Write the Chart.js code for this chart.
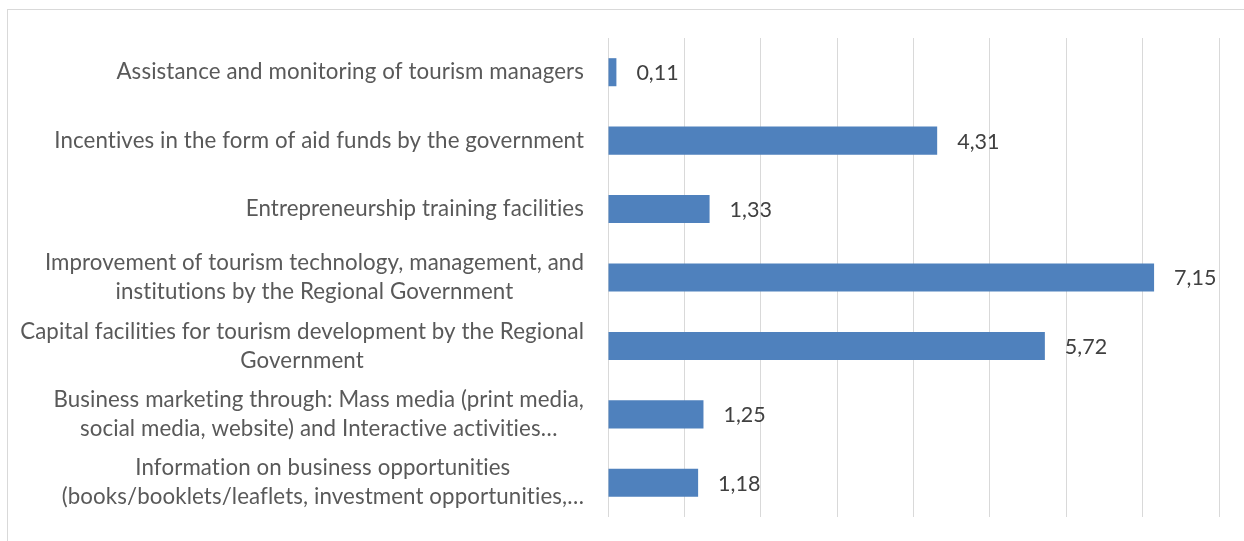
<!DOCTYPE html>
<html>
<head>
<meta charset="utf-8">
<script src="https://cdn.jsdelivr.net/npm/chart.js@4"></script>
<style>
  html, body { margin: 0; padding: 0; background: #fff; overflow: hidden; }
  #frame {
    position: absolute; left: 7px; top: 9px; width: 1300px; height: 600px;
    border: 1px solid #d9d9d9; box-sizing: border-box;
  }
  #wrap { position: absolute; left: 0; top: 0; width: 1244px; height: 541px; }
</style>
</head>
<body>
<div id="frame"></div>
<div id="wrap"><canvas id="chart" width="1244" height="541"></canvas></div>
<script>
// ---- data ----
const categories = [
  ['Assistance and monitoring of tourism managers'],
  ['Incentives in the form of aid funds by the government'],
  ['Entrepreneurship training facilities'],
  ['Improvement of tourism technology, management, and', 'institutions by the Regional Government'],
  ['Capital facilities for tourism development by the Regional', 'Government'],
  ['Business marketing through: Mass media (print media,', 'social media, website) and Interactive activities…'],
  ['Information on business opportunities', '(books/booklets/leaflets, investment opportunities,…']
];
const values = [0.11, 4.31, 1.33, 7.15, 5.72, 1.25, 1.18];
const axisMin = 0;
const axisMax = 8;

const FONT = 'Lato, "Open Sans", sans-serif';
const fmt = v => v.toFixed(2).replace('.', ',');

// category labels: block right-aligned to the axis, lines centred inside the block
const categoryLabels = {
  id: 'categoryLabels',
  afterDraw(chart) {
    const { ctx } = chart;
    const y = chart.scales.y;
    const right = chart.chartArea.left - 24;
    const lineH = 29;
    ctx.save();
    ctx.font = '22.3px ' + FONT;
    ctx.letterSpacing = '0.1px'; // keeps Lato from joining "ti"
    ctx.fillStyle = '#595959';
    ctx.textAlign = 'center';
    ctx.textBaseline = 'middle';
    categories.forEach((lines, i) => {
      const cy = y.getPixelForValue(i);
      const w = Math.max(...lines.map(l => ctx.measureText(l).width));
      const cx = right - w / 2;
      const top = cy - (lines.length - 1) * lineH / 2;
      lines.forEach((l, j) => ctx.fillText(l, cx, top + j * lineH));
    });
    ctx.restore();
  }
};

// value labels just past the end of each bar
const valueLabels = {
  id: 'valueLabels',
  afterDatasetsDraw(chart) {
    const { ctx } = chart;
    const meta = chart.getDatasetMeta(0);
    ctx.save();
    ctx.font = '21.5px ' + FONT;
    ctx.fillStyle = '#404040';
    ctx.textAlign = 'left';
    ctx.textBaseline = 'middle';
    meta.data.forEach((bar, i) => {
      ctx.fillText(fmt(values[i]), bar.x + 20, bar.y + 1);
    });
    ctx.restore();
  }
};

new Chart(document.getElementById('chart'), {
  type: 'bar',
  data: {
    labels: categories,
    datasets: [{
      data: values,
      backgroundColor: '#4f81bd',
      borderWidth: 0,
      barPercentage: 0.41,
      categoryPercentage: 1
    }]
  },
  options: {
    indexAxis: 'y',
    responsive: false,
    animation: false,
    layout: { padding: { left: 8, top: 38, right: 25, bottom: 24 } },
    plugins: { legend: { display: false }, tooltip: { enabled: false } },
    scales: {
      x: {
        min: axisMin, max: axisMax,
        ticks: { display: false, stepSize: 1 },
        grid: { color: '#d9d9d9', lineWidth: 1, drawTicks: false },
        border: { display: false }
      },
      y: {
        ticks: { display: false },
        grid: { display: false, drawTicks: false },
        border: { display: false },
        afterFit: s => { s.width = 600; }
      }
    }
  },
  plugins: [categoryLabels, valueLabels]
});
</script>
</body>
</html>
